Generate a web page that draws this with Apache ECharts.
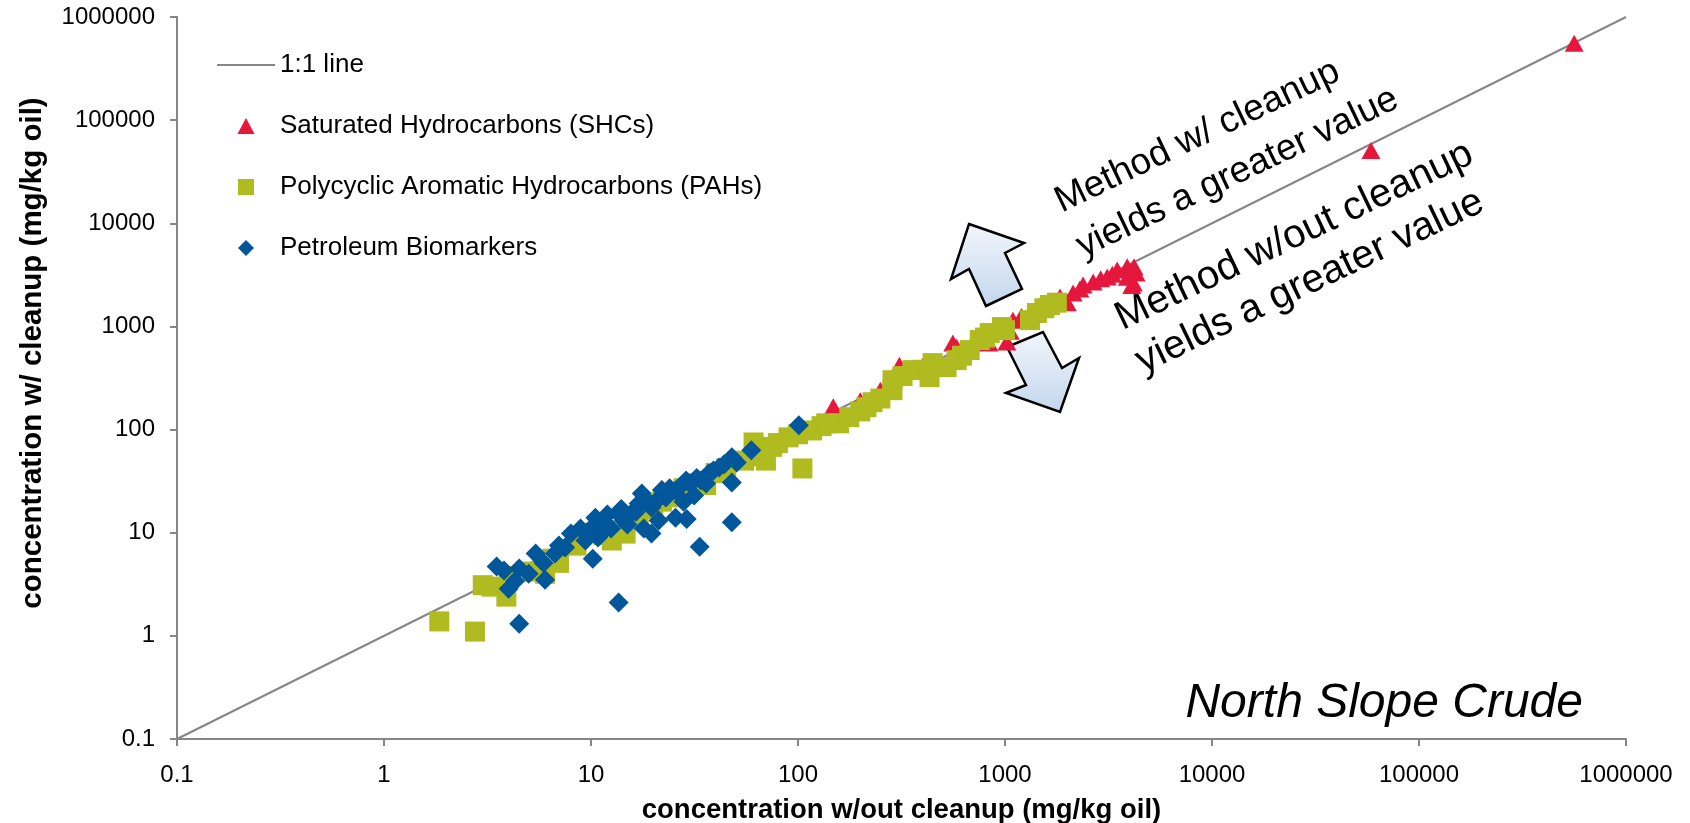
<!DOCTYPE html>
<html>
<head>
<meta charset="utf-8">
<script src="https://cdn.jsdelivr.net/npm/echarts@6/dist/echarts.min.js"></script>
<style>
  html, body { margin: 0; padding: 0; background: #fff; }
  #chart { width: 1690px; height: 823px; }
</style>
</head>
<body>
<div id="chart"></div>
<script>
var decades = [0.1, 1, 10, 100, 1000, 10000, 100000, 1000000];
var oneToOne = [[0.1, 0.1], [1000000, 1000000]];

// [w/out cleanup, w/ cleanup]
var shcPoints = [
  [148, 166], [152, 150], [200, 190], [250, 240], [309, 421], [400, 410],
  [560, 690], [584, 630], [700, 700], [837, 690], [800, 760], [1021, 705],
  [1092, 1150], [1060, 900], [1200, 1250], [1500, 1600], [1845, 1932],
  [2000, 1700], [2133, 2115], [2300, 2300], [2384, 2525], [2667, 2700],
  [2900, 2900], [3118, 3020], [3300, 3200], [3485, 3534], [3894, 3800],
  [4200, 3800], [4300, 3300], [4170, 2640], [3900, 3000], [4100, 2500],
  [58600, 50700], [562000, 555000]
];
var pahPoints = [
  [1.85, 1.38], [2.75, 1.1], [3.0, 3.1], [3.3, 3.0], [3.9, 2.4], [4.0, 3.8],
  [5.2, 4.2], [6.0, 4.0], [7.0, 5.1], [6.5, 5.6], [8.5, 7.5], [12.6, 8.4],
  [14.7, 9.8], [13.5, 10.5], [11.5, 9.5], [17, 14], [20, 17], [22, 20],
  [25, 22], [28, 27], [32, 30], [36, 29], [40, 38], [45, 42], [55, 50],
  [61, 75], [66, 55], [70, 50], [105, 42], [75, 68], [80, 74], [90, 84],
  [100, 90], [117, 98], [130, 108], [137, 115], [158, 115], [177, 132],
  [200, 150], [214, 165], [229, 184], [250, 200], [286, 241], [286, 301],
  [320, 330], [357, 377], [400, 380], [432, 322], [447, 441], [522, 403],
  [584, 471], [620, 520], [675, 590], [755, 738], [800, 780], [844, 863],
  [966, 986], [1000, 920], [1320, 1150], [1426, 1350], [1550, 1500],
  [1649, 1614], [1780, 1700]
];
var bioPoints = [
  [4.5, 1.31], [13.6, 2.1], [10.2, 5.6], [33.5, 7.3], [47.9, 12.6], [3.5, 4.7],
  [4.5, 4.5], [4.0, 2.87], [4.3, 3.4], [6.0, 3.5], [5.4, 6.3], [5.9, 5.1],
  [6.7, 6.3], [7.5, 7.2], [8.0, 9.8], [8.9, 11], [10.1, 11.2], [10.8, 9.0],
  [11.7, 12.3], [13.5, 15.4], [11.2, 9.8], [15.7, 15.4], [17.6, 24], [17.0, 19.2],
  [19.6, 17.6], [19.6, 9.8], [21.2, 13.1], [23, 22], [25.6, 25.7], [25.6, 14],
  [28.8, 32], [29, 13.6], [32.4, 34], [31.5, 23], [37, 37.5], [41.6, 43],
  [47.9, 54], [47.9, 30.7], [50.6, 48], [59.5, 63], [101, 110], [9.4, 8.4],
  [10.5, 14], [14.5, 13], [16.5, 16], [18.5, 21], [20.5, 20], [22, 26],
  [24, 27], [27, 28], [30, 30], [34, 32], [36, 30], [39, 40], [44, 46],
  [18, 11], [28, 20], [15, 12], [12.5, 11], [9.5, 10], [7, 7.5], [5, 4],
  [3.8, 4.3], [12, 15], [14, 17]
];

var FONT = '"Liberation Sans", Arial, sans-serif';
var AXIS_GREY = '#868686';

var arrowFill = new echarts.graphic.LinearGradient(0, 0, 0, 1, [
  { offset: 0, color: '#f3f6fb' },
  { offset: 1, color: '#c3d6ee' }
]);

function tickText(v) {
  return String(+v.toPrecision(6));
}

function logAxis(extra) {
  return Object.assign({
    type: 'log',
    logBase: 10,
    min: decades[0],
    max: decades[decades.length - 1],
    interval: 1,
    axisLine: { show: true, onZero: false, lineStyle: { color: AXIS_GREY, width: 2 } },
    axisTick: { show: true, length: 7, lineStyle: { color: AXIS_GREY, width: 2 } },
    minorTick: { show: false },
    splitLine: { show: false }
  }, extra);
}

var chart = echarts.init(document.getElementById('chart'));

chart.setOption({
  animation: false,
  backgroundColor: '#fff',
  grid: { left: 177, right: 64, top: 17, bottom: 84, containLabel: false, outerBoundsMode: 'none' },
  legend: {
    orient: 'vertical',
    left: 217,
    top: 52,
    padding: 0,
    itemWidth: 58,
    itemHeight: 16,
    itemGap: 35,
    textStyle: { fontSize: 26, color: '#000', fontFamily: FONT },
    data: [
      { name: '1:1 line', icon: 'path://M0,0H54V2H0Z' },
      { name: 'Saturated Hydrocarbons (SHCs)', icon: 'path://M8,0L16,15L0,15Z' },
      { name: 'Polycyclic Aromatic Hydrocarbons (PAHs)', icon: 'path://M0,0H16V16H0Z' },
      { name: 'Petroleum Biomarkers', icon: 'path://M8,0L16,8L8,16L0,8Z' }
    ]
  },
  xAxis: logAxis({
    name: 'concentration w/out cleanup (mg/kg oil)',
    nameLocation: 'middle',
    nameGap: 57,
    nameTextStyle: { fontSize: 27.5, fontWeight: 'bold', color: '#000', fontFamily: FONT },
    axisLabel: { color: '#000', fontSize: 24, fontFamily: FONT, margin: 24, formatter: tickText }
  }),
  yAxis: logAxis({
    axisLabel: { color: '#000', fontSize: 24, fontFamily: FONT, margin: 22, formatter: tickText }
  }),
  series: [
    {
      name: '1:1 line',
      type: 'line',
      data: oneToOne,
      symbol: 'none',
      z: 1,
      lineStyle: { color: AXIS_GREY, width: 2 },
      itemStyle: { color: AXIS_GREY }
    },
    {
      name: 'Saturated Hydrocarbons (SHCs)',
      type: 'scatter',
      data: shcPoints,
      symbol: 'triangle',
      symbolSize: [19, 17],
      itemStyle: { color: '#e5173c', opacity: 1 }
    },
    {
      name: 'Polycyclic Aromatic Hydrocarbons (PAHs)',
      type: 'scatter',
      data: pahPoints,
      symbol: 'rect',
      symbolSize: 20,
      itemStyle: { color: '#b0bb1f', opacity: 1 }
    },
    {
      name: 'Petroleum Biomarkers',
      type: 'scatter',
      data: bioPoints,
      symbol: 'diamond',
      symbolSize: [20, 20],
      itemStyle: { color: '#02569a', opacity: 1 }
    }
  ],
  graphic: [
    {
      type: 'text',
      x: 33, y: 353,
      rotation: Math.PI / 2,
      style: {
        text: 'concentration w/ cleanup (mg/kg oil)',
        font: 'bold 29.5px ' + FONT,
        fill: '#000',
        align: 'center',
        verticalAlign: 'middle'
      }
    },
    {
      type: 'text',
      x: 1068, y: 226,
      rotation: 25.5 * Math.PI / 180,
      style: {
        text: 'Method w/ cleanup\nyields a greater value',
        font: '37px ' + FONT,
        lineHeight: 50,
        fill: '#000',
        align: 'left',
        verticalAlign: 'middle'
      }
    },
    {
      type: 'text',
      x: 1128, y: 342,
      rotation: 25.5 * Math.PI / 180,
      style: {
        text: 'Method w/out cleanup\nyields a greater value',
        font: '40px ' + FONT,
        lineHeight: 48,
        fill: '#000',
        align: 'left',
        verticalAlign: 'middle'
      }
    },
    {
      type: 'polygon',
      shape: { points: [[969, 224], [1024, 243], [1005, 253], [1022, 289], [986, 306], [969, 269], [951, 279]] },
      style: { fill: arrowFill, stroke: '#000', lineWidth: 2.5 }
    },
    {
      type: 'polygon',
      shape: { points: [[1007, 347], [1043, 332], [1062, 368], [1079, 358], [1060, 412], [1006, 393], [1026, 385]] },
      style: { fill: arrowFill, stroke: '#000', lineWidth: 2.5 }
    },
    {
      type: 'text',
      x: 1583, y: 704,
      style: {
        text: 'North Slope Crude',
        font: 'italic 48px ' + FONT,
        fill: '#000',
        align: 'right',
        verticalAlign: 'middle'
      }
    }
  ]
});
</script>
</body>
</html>
